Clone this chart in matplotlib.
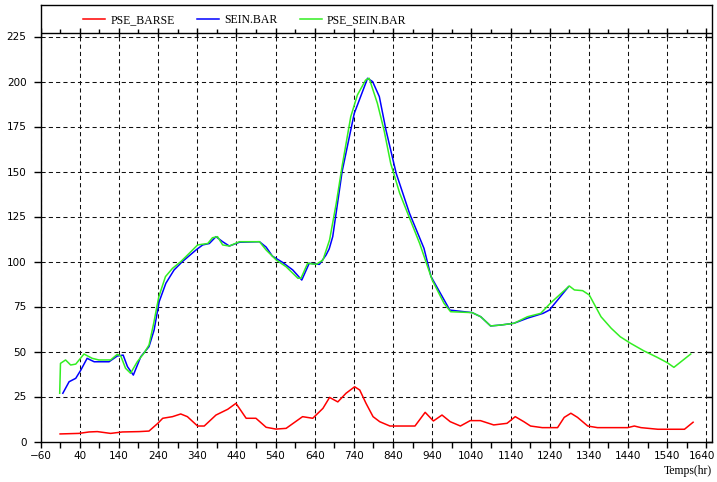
import matplotlib
matplotlib.use("Agg")
import matplotlib.pyplot as plt
import matplotlib.transforms as mtransforms
from matplotlib.lines import Line2D

# ---- data ----
red_x = [-10, 38, 64, 85, 119, 149, 192, 217, 239, 252, 277, 298, 315, 341, 358, 388, 418, 439,
         465, 490, 516, 541, 567, 609, 635, 661, 678, 699, 720, 742, 755, 771, 789, 806, 832, 896,
         922, 943, 965, 986, 1012, 1037, 1063, 1097, 1131, 1152, 1174, 1191, 1221, 1260, 1277,
         1294, 1311, 1337, 1362, 1439, 1456, 1473, 1516, 1584, 1606]
red_y = [4.2, 4.5, 5.3, 5.5, 4.5, 5.3, 5.5, 5.8, 10, 12.9, 13.8, 15.3, 13.8, 8.6, 8.6, 14.7, 17.9,
         21.2, 12.9, 12.9, 7.9, 6.9, 7.3, 13.8, 12.9, 18.4, 24.5, 22, 26.8, 30.4, 28.6, 21.2, 13.8,
         11, 8.6, 8.6, 16.2, 11.4, 14.7, 11, 8.6, 11.6, 11.6, 9.2, 10.1, 13.8, 11, 8.6, 7.7, 7.7,
         13.4, 15.7, 13.4, 8.6, 7.7, 7.7, 8.6, 7.7, 6.8, 6.8, 10.7]

blue_x = [-3, 13, 30, 43, 59, 77, 115, 136, 151, 162, 177, 196, 217, 230, 243, 260, 281, 302,
          337, 354, 371, 388, 405, 422, 448, 499, 516, 532, 558, 584, 607, 626, 652, 669, 677,
          686, 710, 741, 775, 788, 805, 822, 848, 882, 919, 937, 985, 1042, 1064, 1089, 1115,
          1149, 1183, 1223, 1239, 1288]
blue_y = [26.8, 33.2, 35.1, 39.7, 46.2, 44.3, 44.3, 47.5, 48, 41.6, 36.9, 47.1, 52.7, 61.9, 77.7,
          87.9, 95.3, 99.9, 106.4, 109.2, 110, 113.8, 111, 108.6, 110.7, 111, 108, 103, 99.5,
          95.3, 89.7, 99, 98.4, 103.6, 107, 113.8, 150, 182.3, 201.8, 199.9, 191.6, 173, 149,
          126.8, 107.3, 91.6, 73, 71.6, 69.3, 64.2, 64.7, 65.7, 68.5, 71.2, 73, 86]

green_x = [-11, -9, 4, 17, 30, 51, 72, 89, 119, 136, 145, 157, 170, 187, 204, 217, 229, 242, 259,
           277, 298, 320, 341, 367, 379, 392, 405, 422, 448, 499, 516, 542, 567, 597, 605, 622,
           644, 661, 678, 695, 710, 732, 749, 770, 779, 800, 817, 834, 857, 874, 908, 940, 970,
           987, 1042, 1064, 1089, 1115, 1149, 1183, 1217, 1243, 1290, 1303, 1324, 1341, 1371,
           1397, 1420, 1446, 1480, 1514, 1540, 1557, 1600]
green_y = [26.8, 43.4, 45.3, 42.5, 43, 48.6, 46.2, 45.3, 45.3, 48.4, 47.5, 40.7, 37.9, 44.3, 49,
           53.6, 65.7, 80.4, 91.6, 96.2, 99.9, 104.6, 109.2, 110, 113.2, 113.8, 109.2, 108.6, 111,
           111, 106.4, 100.8, 97.1, 90.7, 90.7, 99, 98.4, 100.8, 112, 132.3, 153, 180.4, 192.5,
           200.8, 201.8, 187.9, 173, 154.5, 137.9, 128.6, 110, 89.7, 76.8, 72.1, 71.6, 69.3, 64.2,
           64.7, 65.7, 69.3, 71.2, 77.1, 86.4, 84.2, 83.8, 81.4, 69.3, 62.9, 58.2, 54.6, 50.4,
           46.8, 43.8, 41.2, 48.6]

series_names = ["PSE_BARSE", "SEIN.BAR", "PSE_SEIN.BAR"]
series_colors = ["#ff0000", "#0000ff", "#33ee22"]

x_major = list(range(-60, 1641, 100))
x_minor = list(range(-10, 1641, 100))
y_major = list(range(0, 226, 25))
x_label = "Temps(hr)"

# ---- figure ----
W, H = 717, 482
fig = plt.figure(figsize=(W / 100, H / 100), dpi=100)
L, R, T, B = 40.5, 711.5, 5, 441.5
ax = fig.add_axes([L / W, 1 - B / H, (R - L) / W, (B - T) / H])

XMAX = 1653
YMAX = 242.5
TOPLINE = 227
ax.set_xlim(-60, XMAX)
ax.set_ylim(0, YMAX)

for s in ax.spines.values():
    s.set_linewidth(1.0)
    s.set_color("#000000")

# grid (dashed) limited to plot area under the top axis line
dash = (0, (4, 3))
ax.vlines(x_major, 0, TOPLINE, colors="#111111", linestyles=dash, linewidth=0.75, zorder=1)
ax.hlines(y_major[1:], -60, 1640, colors="#111111", linestyles=dash, linewidth=0.75, zorder=1)

# top axis line with ticks
ax.axhline(TOPLINE, color="#000000", linewidth=1.0, zorder=2)
ax.vlines(x_major, TOPLINE - 2, TOPLINE + 3, colors="#000000", linewidth=1.0, zorder=2)
ax.vlines(x_minor, TOPLINE, TOPLINE + 2, colors="#000000", linewidth=1.0, zorder=2)
# right side ticks
ax.hlines(y_major, 1640, XMAX + 2, colors="#000000", linewidth=1.0, zorder=2, clip_on=False)

# series
xs = [red_x, blue_x, green_x]
ys = [red_y, blue_y, green_y]
for x, y, c, n in zip(xs, ys, series_colors, series_names):
    ax.plot(x, y, color=c, linewidth=1.1, label=n, zorder=3)

# ticks
ax.set_xticks(x_major)
ax.set_xticks(x_minor, minor=True)
ax.set_yticks(y_major)
ax.tick_params(axis="both", which="both", direction="out", length=4, width=1.0,
               labelsize=7.5, pad=3, colors="#000000")
ax.tick_params(axis="y", length=5, pad=5)
for lab in ax.get_xticklabels() + ax.get_yticklabels():
    lab.set_fontfamily("DejaVu Sans")

# keep the last x label inside the figure
fig.canvas.draw()
last = ax.get_xticklabels()[-1]
last.set_transform(last.get_transform() +
                   mtransforms.ScaledTranslation(-4 / 100, 0, fig.dpi_scale_trans))

# legend
handles = [Line2D([], [], color=c, linewidth=1.1) for c in series_colors]
fig.legend(handles, series_names, loc="center left", bbox_to_anchor=(83 / W, 1 - 20 / H),
           ncol=3, frameon=False, prop={"family": "Liberation Serif", "size": 8.5},
           handlelength=1.85, handletextpad=0.45, columnspacing=1.9, borderpad=0,
           borderaxespad=0)

fig.text(R / W, 1 - 471 / H, x_label, ha="right", va="center",
         fontfamily="Liberation Serif", fontsize=8.5)

fig.savefig("out.png", dpi=100)
